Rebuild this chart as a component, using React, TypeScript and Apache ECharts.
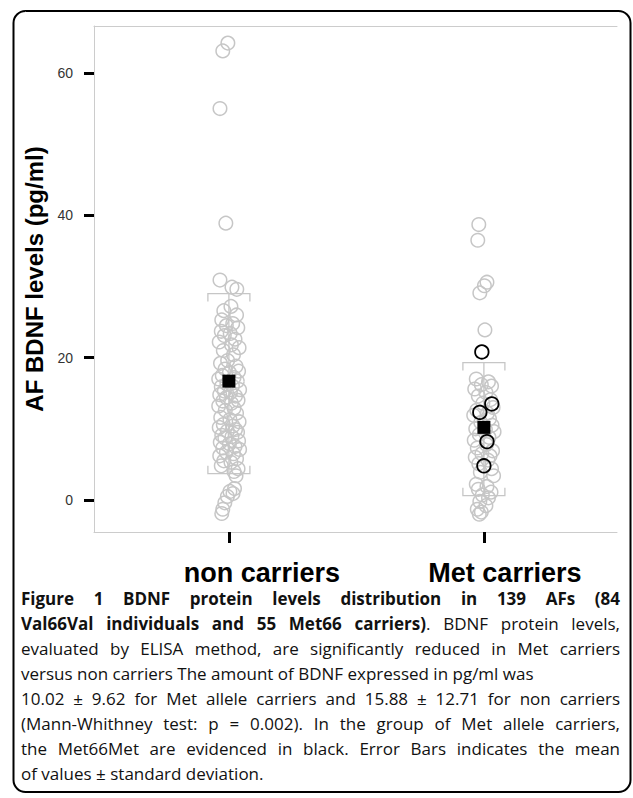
import React, { useEffect, useRef } from "react";
import * as echarts from "echarts";

const categories = ["non carriers", "Met carriers"];
const yTicks = [0, 20, 40, 60];

const nonCarrierValues = [
  64.2, 63.1, 55.0, 38.9, 30.9, 29.9, 29.6, 27.2, 26.6, 26.0,
  25.3, 24.8, 24.5, 24.2, 23.7, 23.4, 23.1, 22.6, 22.2, 21.8,
  21.4, 21.0, 20.4, 19.6, 19.2, 18.8, 18.4, 18.1, 17.9, 17.5,
  17.2, 17.0, 16.7, 16.3, 16.0, 15.9, 15.5, 15.3, 15.1, 14.8,
  14.6, 14.4, 14.0, 13.9, 13.6, 13.2, 12.9, 12.6, 12.2, 11.6,
  11.3, 11.0, 10.6, 10.4, 10.2, 9.9, 9.7, 9.5, 9.1, 8.9,
  8.7, 8.3, 8.1, 7.9, 7.5, 7.3, 7.1, 6.7, 6.5, 6.2,
  5.8, 5.5, 5.3, 4.8, 4.4, 4.0, 3.4, 1.6, 1.2, 0.9,
  0.5, -0.4, -1.3, -1.9,
];
const nonCarrierJitter = [
  -0.004, -0.024, -0.035, -0.012, -0.035, 0.012, 0.031, 0.008, -0.02, 0.03,
  -0.028, 0.015, -0.01, 0.035, -0.03, 0.005, -0.018, 0.024, -0.038, 0.01,
  0.04, -0.022, 0.018, -0.005, -0.033, 0.028, -0.015, 0.038, 0.002, -0.026,
  0.02, -0.04, 0.033, -0.008, 0.014, -0.03, 0.042, -0.018, 0.006, -0.036,
  0.026, -0.01, 0.036, -0.024, 0.01, -0.04, 0.02, -0.014, 0.03, -0.032,
  0.004, 0.04, -0.022, 0.016, -0.038, 0.026, -0.006, 0.034, -0.028, 0.012,
  -0.016, 0.038, -0.034, 0.002, 0.024, -0.024, 0.042, -0.01, 0.018, -0.036,
  0.03, -0.02, 0.008, -0.03, 0.036, 0.02, 0.028, 0.022, 0.004, 0.016,
  -0.006, -0.016, -0.024, -0.028,
];

const metValues = [
  38.7, 36.5, 30.6, 30.1, 29.1, 23.9, 17.0, 16.6, 16.2, 16.0,
  15.6, 15.1, 14.6, 14.1, 13.6, 13.0, 12.6, 12.2, 11.9, 11.4,
  10.9, 10.5, 10.0, 9.9, 9.6, 9.2, 8.8, 8.4, 7.8, 7.3,
  6.9, 6.5, 6.2, 6.0, 5.6, 5.1, 4.4, 3.9, 3.4, 2.2,
  1.9, 1.5, 1.1, 0.7, 0.3, -0.2, -0.8, -1.3, -1.7, -2.0,
];
const metJitter = [
  -0.02, -0.024, 0.012, 0.002, -0.016, 0.004, -0.03, 0.018, -0.01, 0.03,
  -0.036, 0.008, -0.022, 0.026, -0.004, 0.036, -0.028, 0.014, -0.04, 0.022,
  -0.012, 0.032, -0.032, 0.006, 0.04, -0.018, 0.02, -0.038, 0.01, -0.026,
  0.034, -0.008, 0.024, -0.034, 0.016, -0.02, 0.03, -0.014, 0.038, -0.03,
  0.012, -0.022, 0.028, -0.006, 0.018, -0.016, 0.008, -0.026, -0.01, -0.018,
];

const metMetValues = [20.8, 13.5, 12.3, 8.2, 4.8];
const metMetJitter = [-0.008, 0.031, -0.016, 0.012, 0.0];

const meanValues = [16.7, 10.2];
const errLow = [3.7, 0.6];
const errHigh = [29.0, 19.3];

type Seg = { t: string; b: boolean };
const captionLines: { segs: Seg[]; justify: boolean }[] = [
  { segs: [{ t: "Figure 1 BDNF protein levels distribution in 139 AFs (84", b: true }], justify: true },
  {
    segs: [
      { t: "Val66Val individuals and 55 Met66 carriers)", b: true },
      { t: ". BDNF protein levels,", b: false },
    ],
    justify: true,
  },
  { segs: [{ t: "evaluated by ELISA method, are significantly reduced in Met carriers", b: false }], justify: true },
  { segs: [{ t: "versus non carriers The amount of BDNF expressed in pg/ml was", b: false }], justify: false },
  { segs: [{ t: "10.02 ± 9.62 for Met allele carriers and 15.88 ± 12.71 for non carriers", b: false }], justify: true },
  { segs: [{ t: "(Mann-Whithney test: p = 0.002). In the group of Met allele carriers,", b: false }], justify: true },
  { segs: [{ t: "the Met66Met are evidenced in black. Error Bars indicates the mean", b: false }], justify: true },
  { segs: [{ t: "of values ± standard deviation.", b: false }], justify: false },
];

const AXIS_FONT = "'Liberation Sans', Arial, Helvetica, sans-serif";
const CAP_FONT = "'Open Sans', 'Noto Sans', sans-serif";
const CAP_SIZE = 17;

function splitWords(segs: Seg[]): Seg[][] {
  const words: Seg[][] = [];
  let cur: Seg[] | null = null;
  for (const s of segs) {
    const parts = s.t.split(" ");
    parts.forEach((p, i) => {
      if (i > 0) {
        if (cur && cur.length) words.push(cur);
        cur = [];
      }
      if (!cur) cur = [];
      if (p) cur.push({ t: p, b: s.b });
    });
  }
  if (cur && (cur as Seg[]).length) words.push(cur);
  return words;
}

function buildCaption(): any[] {
  const canvas = document.createElement("canvas");
  const ctx = canvas.getContext("2d")!;
  const measure = (t: string, b: boolean) => {
    ctx.font = `${b ? "bold" : "normal"} ${CAP_SIZE}px 'Open Sans'`;
    return ctx.measureText(t).width;
  };
  const left = 21;
  const right = 620;
  const top = 598;
  const lh = 25.1;
  const els: any[] = [];
  captionLines.forEach((line, li) => {
    const words = splitWords(line.segs);
    const widths = words.map((w) => w.reduce((a, s) => a + measure(s.t, s.b), 0));
    const total = widths.reduce((a, b) => a + b, 0);
    const spaceW = measure(" ", false);
    let gap = spaceW;
    if (line.justify && words.length > 1) gap = (right - left - total) / (words.length - 1);
    let x = left;
    const y = top + li * lh;
    words.forEach((w, wi) => {
      let px = x;
      w.forEach((s) => {
        els.push({
          type: "text",
          x: px,
          y,
          silent: true,
          style: {
            text: s.t,
            font: `${s.b ? "bold" : "normal"} ${CAP_SIZE}px 'Open Sans', 'Noto Sans', sans-serif`,
            fill: "#111",
            verticalAlign: "middle",
            align: "left",
          },
        });
        px += measure(s.t, s.b);
      });
      x += widths[wi] + gap;
    });
  });
  return els;
}

export default function App() {
  const ref = useRef<HTMLDivElement>(null);
  useEffect(() => {
    document.body.style.margin = "0";
    const chart = echarts.init(ref.current!, null, { renderer: "svg" });
    const L = 94;
    const R = 617;
    const T = 26;
    const B = 532;
    const xMin = 0.471;
    const xMax = 2.522;
    const grayLine = "#cccccc";
    const circleGray = "#c6c6c6";
    const catStyle = { fontSize: 27, fontWeight: "bold", color: "#000", fontFamily: AXIS_FONT };
    const option: any = {
      animation: false,
      backgroundColor: "#fff",
      grid: { left: L, top: T, width: R - L, height: B - T, containLabel: false },
      xAxis: [
        {
          type: "value",
          min: xMin,
          max: xMax,
          position: "bottom",
          axisLine: { show: true, onZero: false, lineStyle: { color: grayLine, width: 1 } },
          axisTick: { show: true, customValues: [1, 2], length: 11, lineStyle: { color: "#000", width: 3 } },
          axisLabel: {
            show: true,
            customValues: [1, 2],
            formatter: (v: number) => (Math.round(v) === 1 ? `{a|${categories[0]}}` : `{b|${categories[1]}}`),
            margin: 27,
            rich: {
              a: { ...catStyle, padding: [0, 0, 0, 66] },
              b: { ...catStyle, padding: [0, 0, 0, 42] },
            },
          },
          splitLine: { show: false },
        },
        {
          type: "value",
          min: xMin,
          max: xMax,
          position: "top",
          axisLine: { show: true, onZero: false, lineStyle: { color: grayLine, width: 1 } },
          axisTick: { show: false },
          axisLabel: { show: false },
          splitLine: { show: false },
        },
      ],
      yAxis: {
        type: "value",
        min: -4.5,
        max: 66.6,
        axisLine: { show: true, onZero: false, lineStyle: { color: grayLine, width: 1 } },
        axisTick: { show: true, customValues: yTicks, length: 10, lineStyle: { color: "#000", width: 3 } },
        axisLabel: { show: true, customValues: yTicks, fontSize: 14, color: "#333", fontFamily: AXIS_FONT, margin: 21 },
        splitLine: { show: false },
        name: "AF BDNF levels (pg/ml)",
        nameLocation: "middle",
        nameGap: 38,
        nameTextStyle: { fontSize: 24, fontWeight: "bold", color: "#000", fontFamily: AXIS_FONT },
      },
      series: [
        {
          type: "scatter",
          silent: true,
          z: 2,
          symbol: "circle",
          symbolSize: 13.5,
          itemStyle: { color: "rgba(0,0,0,0)", borderColor: circleGray, borderWidth: 1.5, opacity: 1 },
          data: nonCarrierValues.map((v, i) => [1 + nonCarrierJitter[i], v]),
        },
        {
          type: "scatter",
          silent: true,
          z: 2,
          symbol: "circle",
          symbolSize: 13.5,
          itemStyle: { color: "rgba(0,0,0,0)", borderColor: circleGray, borderWidth: 1.5, opacity: 1 },
          data: metValues.map((v, i) => [2 + metJitter[i], v]),
        },
        {
          type: "custom",
          silent: true,
          z: 3,
          renderItem: (params: any, api: any) => {
            const x = api.value(0);
            const lo = api.coord([x, api.value(1)]);
            const hi = api.coord([x, api.value(2)]);
            const hw = 21;
            const ht = 8;
            const st = { stroke: circleGray, lineWidth: 1.3, fill: "none" };
            return {
              type: "group",
              children: [
                { type: "line", shape: { x1: lo[0], y1: lo[1], x2: hi[0], y2: hi[1] }, style: st },
                { type: "polyline", shape: { points: [[hi[0] - hw, hi[1] + ht], [hi[0] - hw, hi[1]], [hi[0] + hw, hi[1]], [hi[0] + hw, hi[1] + ht]] }, style: st },
                { type: "polyline", shape: { points: [[lo[0] - hw, lo[1] - ht], [lo[0] - hw, lo[1]], [lo[0] + hw, lo[1]], [lo[0] + hw, lo[1] - ht]] }, style: st },
              ],
            };
          },
          data: categories.map((c, i) => [i + 1, errLow[i], errHigh[i]]),
        },
        {
          type: "scatter",
          silent: true,
          z: 4,
          symbol: "rect",
          symbolSize: 13,
          itemStyle: { color: "#000", opacity: 1 },
          data: meanValues.map((v, i) => [i + 1, v]),
        },
        {
          type: "scatter",
          silent: true,
          z: 5,
          symbol: "circle",
          symbolSize: 13.5,
          itemStyle: { color: "rgba(0,0,0,0)", borderColor: "#000", borderWidth: 1.8, opacity: 1 },
          data: metMetValues.map((v, i) => [2 + metMetJitter[i], v]),
        },
      ],
      graphic: [
        {
          type: "rect",
          silent: true,
          shape: { x: 13.5, y: 11, width: 617, height: 781, r: 12 },
          style: { fill: "none", stroke: "#000", lineWidth: 2 },
        },
        ...buildCaption(),
      ],
    };
    chart.setOption(option);
    return () => chart.dispose();
  }, []);
  return <div ref={ref} style={{ width: 633, height: 798 }} />;
}
